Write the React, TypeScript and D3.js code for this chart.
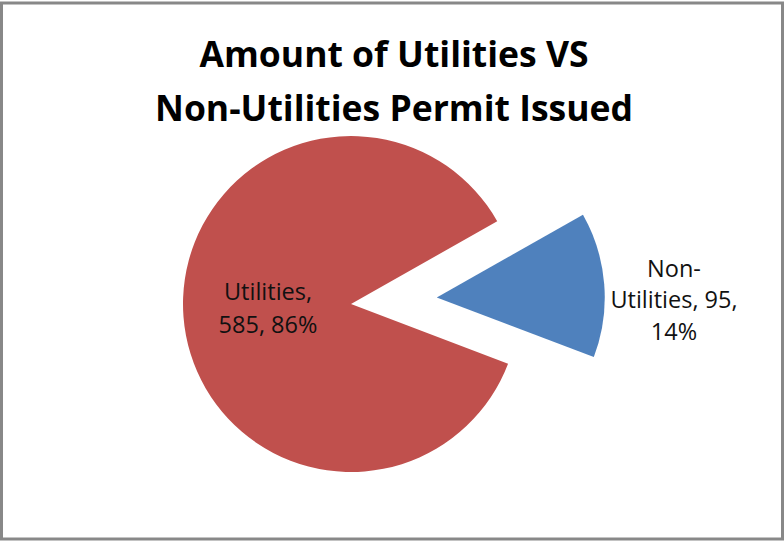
import React from 'react';
import { pie, arc, PieArcDatum } from 'd3';

const categories = ['Non-Utilities', 'Utilities'];
const values = [95, 585];
const percents = ['14%', '86%'];
const colors = ['#4F81BD', '#C0504D'];

const titleLines = ['Amount of Utilities VS', 'Non-Utilities Permit Issued'];

const width = 784;
const height = 542;
const cx = 351;
const cy = 304;
const radius = 168;
const explode = 86; // Non-Utilities slice pulled out
const startAngle = (60.5 * Math.PI) / 180;

const App: React.FC = () => {
    const pieGen = pie<number>()
        .sort(null)
        .startAngle(startAngle)
        .endAngle(startAngle + 2 * Math.PI);
    const slices = pieGen(values);
    const arcGen = arc<PieArcDatum<number>>().innerRadius(0).outerRadius(radius);

    const offset = (d: PieArcDatum<number>, i: number) => {
        if (i !== 0) return [0, 0];
        const mid = (d.startAngle + d.endAngle) / 2;
        return [Math.sin(mid) * explode, -Math.cos(mid) * explode];
    };

    const font = "'Open Sans', Lato, sans-serif";

    return (
        <svg width={width} height={height} style={{ position: 'absolute', left: 0, top: 0, fontVariantLigatures: 'none' }}>
            <rect x={0} y={0} width={width} height={height} fill="#ffffff" />
            <rect x={1.5} y={3} width={width - 3} height={height - 6} fill="none" stroke="#888888" strokeWidth={3} />

            <g fontFamily={font} fontWeight={700} fontSize={35.5} fill="#000" textAnchor="middle">
                {titleLines.map((t, i) => (
                    <text key={i} x={394} y={67 + i * 54}>{t}</text>
                ))}
            </g>

            {slices.map((d, i) => {
                const [dx, dy] = offset(d, i);
                return (
                    <path
                        key={categories[i]}
                        d={arcGen(d) || ''}
                        transform={`translate(${cx + dx},${cy + dy})`}
                        fill={colors[i]}
                    />
                );
            })}

            <g fontFamily={font} fontSize={23.5} fill="#111" textAnchor="middle">
                <text x={268} y={300}>{`${categories[1]},`}</text>
                <text x={268} y={333}>{`${values[1]}, ${percents[1]}`}</text>
                <text x={674} y={277}>Non-</text>
                <text x={674} y={308}>{`Utilities, ${values[0]},`}</text>
                <text x={674} y={340}>{percents[0]}</text>
            </g>
        </svg>
    );
};

export default App;
